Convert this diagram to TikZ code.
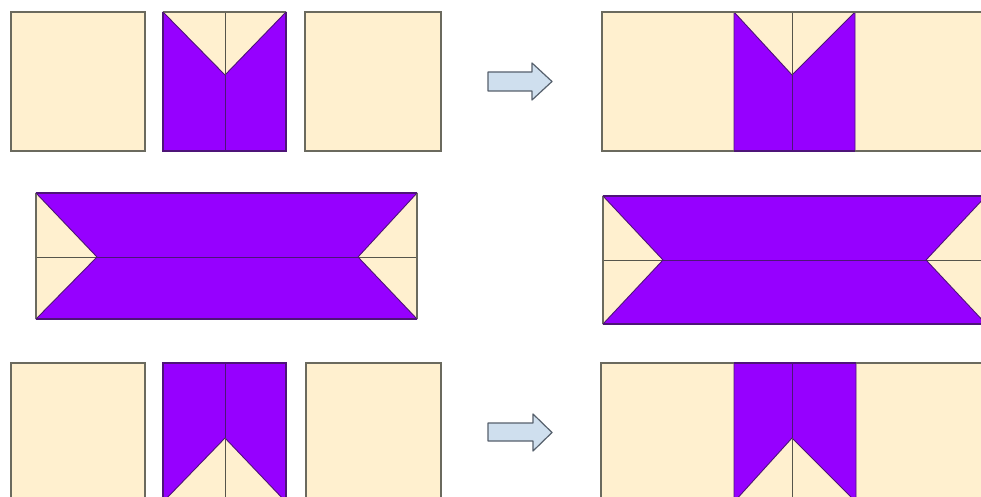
\documentclass[tikz,border=0pt]{standalone}
\begin{document}
\begin{tikzpicture}[x=1pt,y=-1pt,
  cream/.style={fill=creamc},
  frame/.style={draw=framec,line width=1.4pt},
  pframe/.style={draw=purpd,line width=1.4pt},
  purp/.style={fill=purpc,draw=purpd,line width=0.9pt,line join=round},
  fold/.style={draw=framec!80!black,line width=1pt},
  pfold/.style={draw=purpd,line width=1pt},
  bigarrow/.style={fill=arrowc,draw=arrowd,line width=1.2pt,line join=round}]
\definecolor{creamc}{HTML}{FFF0CF}
\definecolor{framec}{HTML}{6B6A5E}
\definecolor{purpc}{HTML}{9600FF}
\definecolor{purpd}{HTML}{4E1478}
\definecolor{arrowc}{HTML}{CFDFEE}
\definecolor{arrowd}{HTML}{56606C}
\useasboundingbox (0,0) rectangle (981,497);
\clip (0,0) rectangle (981,497);

% ---------- top row, left ----------
\draw[cream,frame] (11,12) rectangle (145,151);
% V block
\fill[creamc] (163,12) rectangle (286,151);
\draw[purp] (163,12) -- (225,75) -- (286,12) -- (286,151) -- (163,151) -- cycle;
\draw[fold] (225,12) -- (225,75);
\draw[pfold] (225,75) -- (225,151);
\draw[frame] (163,12) -- (286,12);
\draw[pframe] (286,12) -- (286,151) -- (163,151) -- (163,12);
\draw[cream,frame] (305,12) rectangle (441,151);

% arrow top
\draw[bigarrow] (488,72) -- (532,72) -- (532,63) -- (552,81.5) -- (532,100) -- (532,91) -- (488,91) -- cycle;

% ---------- top row, right ----------
\draw[cream,frame] (602,12) rectangle (983,151);
\draw[purp] (734,12) -- (792,75) -- (855,12) -- (855,151) -- (734,151) -- cycle;
\draw[fold] (792,12) -- (792,75);
\draw[pfold] (792,75) -- (792,151);
\draw[frame] (602,12) rectangle (983,151);
\draw[pframe] (734,151) -- (855,151);

% ---------- middle left ----------
\fill[creamc] (36,193) rectangle (417,319);
\draw[fold] (36,257) -- (97,257);
\draw[fold] (358,257) -- (417,257);
\draw[purp] (36,193) -- (417,193) -- (358,257) -- (417,319) -- (36,319) -- (97,257) -- cycle;
\draw[pfold] (97,257) -- (358,257);
\draw[frame] (36,193) -- (36,319) (417,193) -- (417,319);
\draw[pframe] (36,193) -- (417,193) (36,319) -- (417,319);

% ---------- middle right ----------
\fill[creamc] (603,196) rectangle (986,324);
\draw[fold] (603,260) -- (663,260);
\draw[fold] (926,260) -- (986,260);
\draw[purp] (603,196) -- (986,196) -- (926,260) -- (986,324) -- (603,324) -- (663,260) -- cycle;
\draw[pfold] (663,260) -- (926,260);
\draw[frame] (603,196) -- (603,324);
\draw[pframe] (603,196) -- (986,196) (603,324) -- (986,324);

% ---------- bottom row, left ----------
\draw[cream,frame] (11,363) rectangle (145,502);
\fill[creamc] (163,363) rectangle (286,502);
\draw[purp] (163,363) -- (286,363) -- (286,502) -- (225,438) -- (163,502) -- cycle;
\draw[pfold] (225,363) -- (225,438);
\draw[fold] (225,438) -- (225,502);
\draw[pframe] (163,502) -- (163,363) -- (286,363) -- (286,502);
\draw[cream,frame] (306,363) rectangle (441,502);

% arrow bottom
\draw[bigarrow] (488,423) -- (533,423) -- (533,414) -- (552,432.5) -- (533,451) -- (533,441) -- (488,441) -- cycle;

% ---------- bottom row, right ----------
\draw[cream,frame] (601,363) rectangle (983,502);
\draw[purp] (734,363) -- (856,363) -- (856,502) -- (792,438) -- (734,502) -- cycle;
\draw[pfold] (792,363) -- (792,438);
\draw[fold] (792,438) -- (792,502);
\draw[frame] (601,363) rectangle (983,502);
\draw[pframe] (734,363) -- (856,363);
\end{tikzpicture}
\end{document}
